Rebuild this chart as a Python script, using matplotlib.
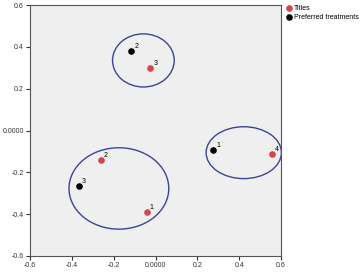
import matplotlib
matplotlib.use('Agg')
import matplotlib.pyplot as plt
from matplotlib.patches import Ellipse

plt.rcParams['font.family'] = ['Liberation Sans', 'DejaVu Sans']

titles_x = [-0.04, -0.26, -0.024, 0.556]
titles_y = [-0.39, -0.14, 0.30, -0.11]
titles_lbl = ['1', '2', '3', '4']

pref_x = [0.276, -0.115, -0.366]
pref_y = [-0.094, 0.38, -0.265]
pref_lbl = ['1', '2', '3']

# clusters: center x, center y, width, height
clusters = [(-0.058, 0.335, 0.295, 0.254),
            (0.422, -0.106, 0.36, 0.248),
            (-0.175, -0.277, 0.477, 0.389)]

ticks = [-0.6, -0.4, -0.2, 0.0, 0.2, 0.4, 0.6]
tick_lbls = ['-0.6', '-0.4', '-0.2', '0.0000', '0.2', '0.4', '0.6']

fig = plt.figure(figsize=(3.61, 2.72), dpi=100)
ax = fig.add_axes([30 / 361, 1 - 256 / 272, 251 / 361, 251 / 272])
ax.set_facecolor('#efefef')

for cx, cy, w, h in clusters:
    ax.add_patch(Ellipse((cx, cy), w, h, fill=False, edgecolor='#3d4496', lw=1.0))

ax.scatter(titles_x, titles_y, s=14, color='#d8434b', label='Titles', zorder=3)
ax.scatter(pref_x, pref_y, s=14, color='black', label='Preferred treatments', zorder=3)

for x, y, t in zip(titles_x, titles_y, titles_lbl):
    ax.annotate(t, (x, y), xytext=(2, 2), textcoords='offset points', fontsize=5)
for x, y, t in zip(pref_x, pref_y, pref_lbl):
    ax.annotate(t, (x, y), xytext=(2, 2), textcoords='offset points', fontsize=5)

ax.set_xlim(-0.6, 0.6)
ax.set_ylim(-0.6, 0.6)
ax.set_xticks(ticks)
ax.set_xticklabels(tick_lbls)
ax.set_yticks(ticks)
ax.set_yticklabels(tick_lbls)
ax.tick_params(labelsize=5, length=3, width=0.8, colors='#333333', pad=1.5)
for s in ax.spines.values():
    s.set_color('#555555')
    s.set_linewidth(0.8)

ax.legend(loc='upper left', bbox_to_anchor=(1.0, 1.02), frameon=False,
          fontsize=5, handletextpad=0.1, borderaxespad=0.3, labelspacing=0.3,
          handlelength=1.0)

fig.savefig('out.png', dpi=100)
